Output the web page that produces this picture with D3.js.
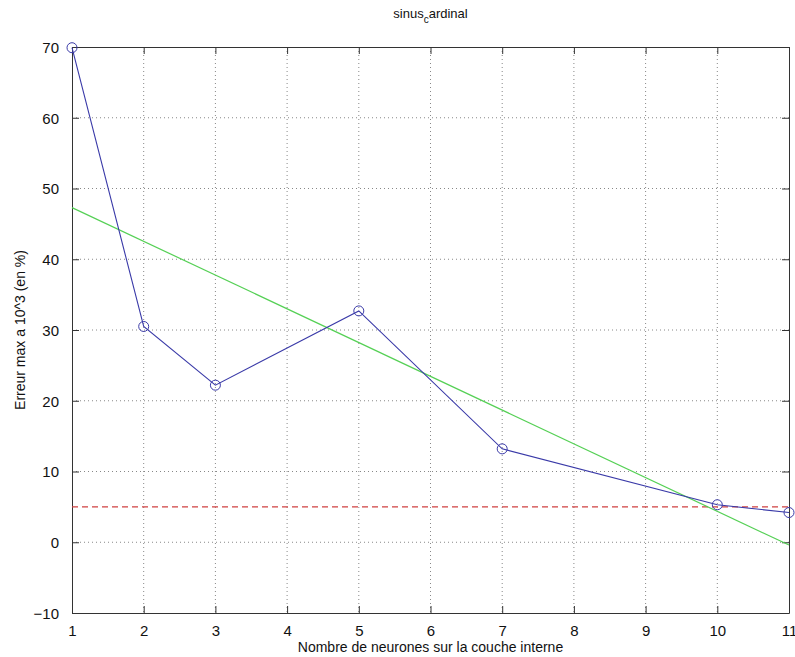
<!DOCTYPE html>
<html>
<head>
<meta charset="utf-8">
<script src="https://cdn.jsdelivr.net/npm/d3@7"></script>
<style>
  body { margin: 0; background: #fff; }
  text { font-family: "Liberation Sans", Arial, sans-serif; fill: #111; }
</style>
</head>
<body>
<svg id="chart" width="795" height="657"></svg>
<script>
'use strict';

// data
var neurons = [1, 2, 3, 5, 7, 10, 11];
var maxError = [69.9, 30.5, 22.2, 32.7, 13.2, 5.3, 4.2];
var fitX = [1, 11];
var fitY = [47.3, -0.4];
var thresholdY = 5;
var xTicks = [1, 2, 3, 4, 5, 6, 7, 8, 9, 10, 11];
var yTicks = [-10, 0, 10, 20, 30, 40, 50, 60, 70];

var svg = d3.select('#chart');
var plotLeft = 72, plotRight = 789, plotTop = 47, plotBottom = 613;

var x = d3.scaleLinear().domain([1, 11]).range([plotLeft, plotRight]);
var y = d3.scaleLinear().domain([-10, 70]).range([plotBottom, plotTop]);

// grid
svg.append('g').selectAll('line')
    .data(xTicks.slice(1, -1))
    .enter().append('line')
    .attr('x1', function(d) { return x(d); })
    .attr('x2', function(d) { return x(d); })
    .attr('y1', plotTop).attr('y2', plotBottom)
    .style('stroke', '#888').style('stroke-dasharray', '1,3');

svg.append('g').selectAll('line')
    .data(yTicks.slice(1, -1))
    .enter().append('line')
    .attr('y1', function(d) { return y(d); })
    .attr('y2', function(d) { return y(d); })
    .attr('x1', plotLeft).attr('x2', plotRight)
    .style('stroke', '#888').style('stroke-dasharray', '1,3');

// axes, ticks inside
var xBottom = svg.append('g').attr('transform', 'translate(0,' + plotBottom + ')')
    .call(d3.axisBottom(x).tickValues(xTicks).tickSizeInner(-7).tickSizeOuter(0).tickPadding(12));
var xTop = svg.append('g').attr('transform', 'translate(0,' + plotTop + ')')
    .call(d3.axisTop(x).tickValues(xTicks).tickSizeInner(-7).tickSizeOuter(0).tickFormat(''));
var yLeft = svg.append('g').attr('transform', 'translate(' + plotLeft + ',0)')
    .call(d3.axisLeft(y).tickValues(yTicks).tickSizeInner(-7).tickSizeOuter(0).tickPadding(13));
var yRight = svg.append('g').attr('transform', 'translate(' + plotRight + ',0)')
    .call(d3.axisRight(y).tickValues(yTicks).tickSizeInner(-7).tickSizeOuter(0).tickFormat(''));

[xBottom, xTop, yLeft, yRight].forEach(function(g) {
    g.selectAll('path, line').style('stroke', '#333');
    g.selectAll('text').style('font-size', '15px').style('fill', '#111')
        .style('font-family', '"Liberation Sans", Arial, sans-serif');
});
yLeft.selectAll('text').attr('dy', '0.35em').text(function(d) { return d < 0 ? '\u2212' + Math.abs(d) : d; });

// threshold
svg.append('line')
    .attr('x1', x(1)).attr('x2', x(11))
    .attr('y1', y(thresholdY)).attr('y2', y(thresholdY))
    .style('stroke', '#d04040').style('stroke-width', 1.2).style('stroke-dasharray', '6,4');

// linear fit
svg.append('line')
    .attr('x1', x(fitX[0])).attr('x2', x(fitX[1]))
    .attr('y1', y(fitY[0])).attr('y2', y(fitY[1]))
    .style('stroke', '#55d055').style('stroke-width', 1.2);

// data line
var pts = neurons.map(function(n, i) { return [n, maxError[i]]; });
svg.append('path')
    .datum(pts)
    .attr('d', d3.line().x(function(d) { return x(d[0]); }).y(function(d) { return y(d[1]); }))
    .style('fill', 'none').style('stroke', '#3a3aa8').style('stroke-width', 1.1);

svg.selectAll('circle.pt')
    .data(pts)
    .enter().append('circle')
    .attr('class', 'pt')
    .attr('cx', function(d) { return x(d[0]); })
    .attr('cy', function(d) { return y(d[1]); })
    .attr('r', 5)
    .style('fill', 'none').style('stroke', '#3a3aa8').style('stroke-width', 1);

// title with subscript
var title = svg.append('text')
    .attr('x', (plotLeft + plotRight) / 2).attr('y', 18)
    .attr('text-anchor', 'middle').style('font-size', '13px');
title.append('tspan').text('sinus');
title.append('tspan').attr('dy', 5).style('font-size', '10px').text('c');
title.append('tspan').attr('dy', -5).text('ardinal');

svg.append('text')
    .attr('x', (plotLeft + plotRight) / 2).attr('y', 652)
    .attr('text-anchor', 'middle').style('font-size', '14px')
    .text('Nombre de neurones sur la couche interne');

svg.append('text')
    .attr('transform', 'translate(25,' + ((plotTop + plotBottom) / 2) + ') rotate(-90)')
    .attr('text-anchor', 'middle').style('font-size', '14px')
    .text('Erreur max a 10^3 (en %)');
</script>
</body>
</html>
